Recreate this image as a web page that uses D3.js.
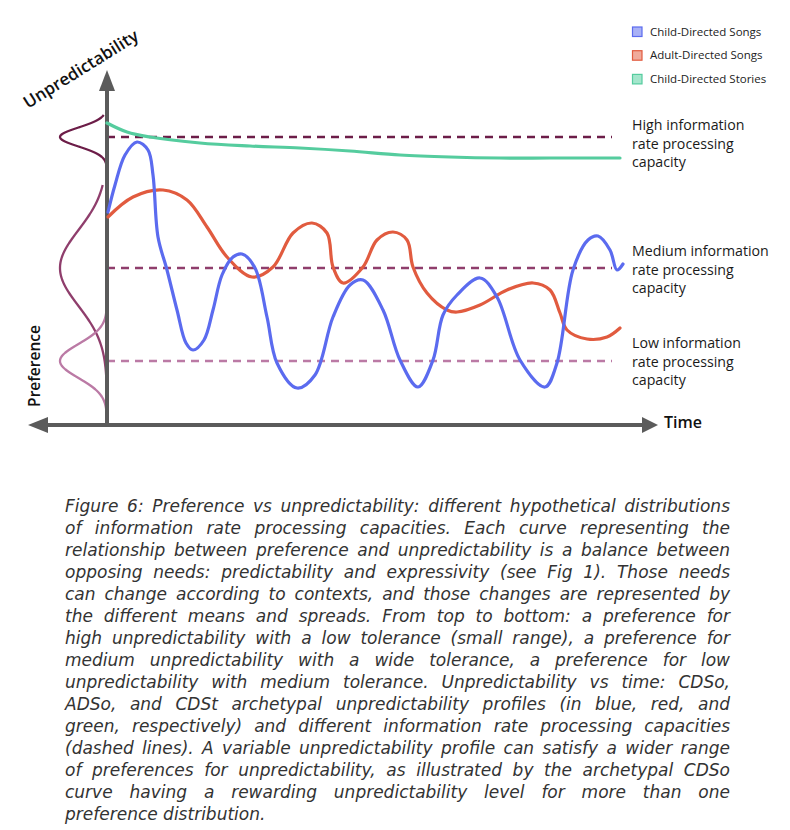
<!DOCTYPE html>
<html><head><meta charset="utf-8">
<script src="https://cdn.jsdelivr.net/npm/d3@7"></script>
<style>body{margin:0;background:#fff}svg{display:block}</style>
</head><body>
<svg id="c" width="790" height="830"></svg>
<script>
// ---------- DATA ----------
const seriesNames = ["Child-Directed Songs", "Adult-Directed Songs", "Child-Directed Stories"];
// [time, unpredictability]
const cdsoProfile = [[0.1,21.3],[0.8,24.0],[1.8,27.0],[3.0,28.3],[4.1,27.5],[4.6,25.0],[5.1,18.8],[6.0,15.5],[7.0,11.5],[7.9,8.2],[8.6,7.5],[9.7,8.5],[10.6,11.5],[11.5,15.0],[12.6,16.8],[13.5,17.1],[14.8,15.7],[16.0,10.8],[17.0,6.2],[19.0,3.7],[20.8,5.0],[22.6,10.8],[24.3,14.0],[25.6,14.5],[27.6,11.5],[29.3,6.5],[31.1,3.8],[32.6,6.5],[33.6,11.0],[35.0,13.0],[37.3,14.7],[39.0,12.8],[41.3,6.5],[43.8,3.8],[45.0,6.2],[46.6,15.5],[48.1,18.5],[49.1,18.9],[50.3,17.5],[51.0,15.5],[51.6,16.1]];
const adsoProfile = [[0.1,20.8],[2.6,22.8],[5.6,23.5],[8.0,22.5],[10.0,19.8],[12.0,16.8],[14.5,14.8],[16.6,15.8],[18.6,19.2],[20.5,20.2],[22.0,19.2],[22.6,15.8],[23.6,14.2],[25.6,15.8],[27.0,18.5],[28.6,19.3],[30.0,18.5],[30.6,15.8],[32.0,13.2],[34.0,11.5],[35.0,11.3],[37.3,12.0],[40.0,13.5],[42.6,14.2],[44.3,13.5],[45.3,11.2],[46.0,9.5],[48.0,8.6],[50.0,8.8],[51.3,9.7]];
const cdstProfile = [[0,30.2],[2,29.3],[4.3,28.8],[9.3,28.2],[14.3,27.9],[19.3,27.7],[24.3,27.4],[29.3,27.0],[34.3,26.8],[39.3,26.7],[44.3,26.7],[51.3,26.7]];
const capacityLevels = [28.8, 15.7, 6.4];      // unpredictability of each capacity
const capacitySpreads = [0.95, 3.8, 1.7];      // tolerance (spread of preference)
const capacityRanges = [[25.6,31.0],[1.5,24.0],[1.2,11.6]]; // drawn extent of each distribution
const capacityLabels = [["High information","rate processing","capacity"],["Medium information","rate processing","capacity"],["Low information","rate processing","capacity"]];
const captionLines = [
"Figure 6: Preference vs unpredictability: different hypothetical distributions",
"of information rate processing capacities. Each curve representing the",
"relationship between preference and unpredictability is a balance between",
"opposing needs: predictability and expressivity (see Fig 1). Those needs",
"can change according to contexts, and those changes are represented by",
"the different means and spreads. From top to bottom: a preference for",
"high unpredictability with a low tolerance (small range), a preference for",
"medium unpredictability with a wide tolerance, a preference for low",
"unpredictability with medium tolerance. Unpredictability vs time: CDSo,",
"ADSo, and CDSt archetypal unpredictability profiles (in blue, red, and",
"green, respectively) and different information rate processing capacities",
"(dashed lines). A variable unpredictability profile can satisfy a wider range",
"of preferences for unpredictability, as illustrated by the archetypal CDSo",
"curve having a rewarding unpredictability level for more than one",
"preference distribution."];

// ---------- STYLE ----------
const lineColors = ["#5b6bef","#e15b3f","#55cc9e"];
const fillColors = ["#a9b1f6","#f0aa9b","#a4e6cc"];
const capColors = ["#6c1d48","#8f3e6c","#bb7aa5"];
const axisColor = "#5b5b5b";
const labelFont = "'Open Sans', 'Noto Sans', sans-serif";

const svg = d3.select("#c");
const x = d3.scaleLinear().domain([0,52]).range([107,627]);
const y = d3.scaleLinear().domain([0,34]).range([425,85]);
const pref = d3.scaleLinear().domain([0,1]).range([107,60]);

// preference distributions
capacityLevels.forEach((m,i)=>{
  const s = capacitySpreads[i];
  const [lo,hi] = capacityRanges[i];
  const pts = d3.range(lo, hi+0.001, 0.05).map(u=>[Math.exp(-0.5*((u-m)/s)**2), u]);
  svg.append("path").datum(pts)
    .attr("d", d3.line().x(d=>pref(d[0])).y(d=>y(d[1])).curve(d3.curveBasis))
    .attr("fill","none").attr("stroke",capColors[i]).attr("stroke-width",2.3);
});

// dashed capacity lines
capacityLevels.forEach((m,i)=>{
  svg.append("line").attr("x1",x(0)).attr("x2",x(50.5)).attr("y1",y(m)).attr("y2",y(m))
    .attr("stroke",capColors[i]).attr("stroke-width",2.5).attr("stroke-dasharray","8,6");
});

// axes
svg.append("line").attr("x1",x(0)).attr("x2",x(0)).attr("y1",y(0)).attr("y2",88)
  .attr("stroke",axisColor).attr("stroke-width",4);
svg.append("path").attr("d",`M${x(0)},70 L${x(0)-8},91 L${x(0)+8},91Z`).attr("fill",axisColor);
svg.append("line").attr("x1",46).attr("x2",644).attr("y1",y(0)).attr("y2",y(0))
  .attr("stroke",axisColor).attr("stroke-width",4);
svg.append("path").attr("d",`M28,${y(0)} L48,${y(0)-8} L48,${y(0)+8}Z`).attr("fill",axisColor);
svg.append("path").attr("d",`M658,${y(0)} L642,${y(0)-8} L642,${y(0)+8}Z`).attr("fill",axisColor);

// profiles
const profiles = [cdsoProfile, adsoProfile, cdstProfile];
const lineGen = d3.line().x(d=>x(d[0])).y(d=>y(d[1])).curve(d3.curveCatmullRom.alpha(0.5));
[2,1,0].forEach(i=>{
  svg.append("path").datum(profiles[i]).attr("d",lineGen)
    .attr("fill","none").attr("stroke",lineColors[i]).attr("stroke-width",3.2)
    .attr("stroke-linecap","round").attr("stroke-linejoin","round");
});

// axis labels
svg.append("text").attr("transform","translate(28,109) rotate(-32)")
  .attr("font-family",labelFont).attr("font-weight",600).attr("font-size",17).attr("fill","#111")
  .text("Unpredictability");
svg.append("text").attr("transform","translate(40,366) rotate(-90)").attr("text-anchor","middle")
  .attr("font-family",labelFont).attr("font-weight",600).attr("font-size",15.5).attr("fill","#111")
  .text("Preference");
svg.append("text").attr("x",664).attr("y",428)
  .attr("font-family",labelFont).attr("font-weight",600).attr("font-size",16).attr("fill","#111")
  .text("Time");

// capacity labels
const labelTop = [130, 256, 348];
capacityLabels.forEach((lines,i)=>{
  lines.forEach((t,j)=>{
    svg.append("text").attr("x",632).attr("y",labelTop[i]+j*18.5)
      .attr("font-family",labelFont).attr("font-size",14.2).attr("fill","#1a1a1a").text(t);
  });
});

// legend
seriesNames.forEach((n,i)=>{
  const yy = 27 + i*23.7;
  svg.append("rect").attr("x",632.5).attr("y",yy).attr("width",9.5).attr("height",9.5)
    .attr("fill",fillColors[i]).attr("stroke",lineColors[i]).attr("stroke-width",1.2);
  svg.append("text").attr("x",650).attr("y",yy+8.5)
    .attr("font-family",labelFont).attr("font-size",11.5).attr("fill","#222").text(n);
});

// caption (justified)
const capG = svg.append("g").attr("font-family","'DejaVu Sans'").attr("font-style","oblique")
  .attr("font-size",17).attr("fill","#333");
const cx0 = 65, cw = 665;
captionLines.forEach((line,i)=>{
  const yy = 512 + i*22;
  const words = line.split(" ");
  const items = words.map(w=>{const t=capG.append("text").attr("y",yy).text(w);return [t,t.node().getComputedTextLength()];});
  const total = d3.sum(items,d=>d[1]);
  const last = i===captionLines.length-1;
  const gap = last ? 5.4 : (cw-total)/(words.length-1);
  let xx = cx0;
  items.forEach(([t,w])=>{t.attr("x",xx); xx += w+gap;});
});
</script>
</body></html>
